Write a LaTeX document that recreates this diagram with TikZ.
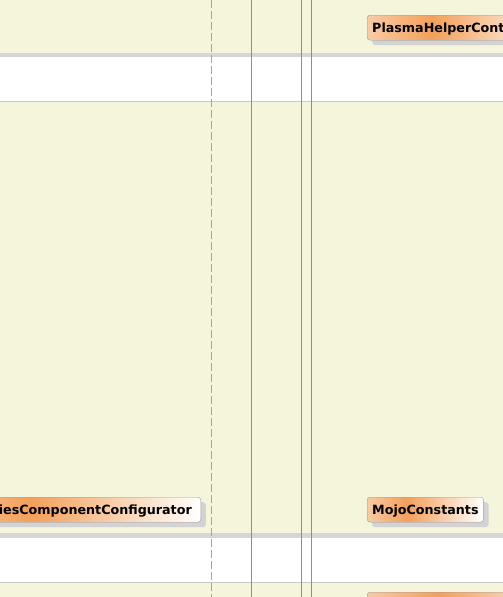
\documentclass[tikz,border=0pt]{standalone}
\usepackage{fontspec}
\setmainfont{DejaVu Sans}
\usetikzlibrary{shadows}
\definecolor{beige}{HTML}{F5F5DC}
\definecolor{stripe}{HTML}{D6D6D6}
\definecolor{rowline}{HTML}{C8C8D0}
\definecolor{life}{HTML}{8E8E8E}
\definecolor{boxlight}{HTML}{F9CBA4}
\definecolor{boxdark}{HTML}{F3A05A}
\definecolor{boxline}{HTML}{9A9A9A}
\definecolor{shadowgray}{HTML}{D3D3D3}
\pgfdeclarehorizontalshading{classfill}{100bp}{color(0bp)=(boxlight); color(25bp)=(boxlight); color(42bp)=(boxdark); color(75bp)=(white); color(100bp)=(white)}
\tikzstyle{class} = [rectangle, rounded corners=3pt, draw=boxline, shade, shading=classfill, minimum height=25pt, inner xsep=5pt, inner ysep=0pt, text height=10pt, text depth=0pt, font=\fontsize{12.7}{15}\bfseries\selectfont, drop shadow={shadow xshift=5pt, shadow yshift=-5pt, fill=shadowgray, opacity=1}]
\tikzstyle{lifeline} = [life, line width=1pt]

\begin{document}
\begin{tikzpicture}[x=1pt, y=-1pt]
  \useasboundingbox (0,0) rectangle (503,597);
  \clip (0,0) rectangle (503,597);
  % rows
  \fill[beige] (0,0) rectangle (503,597);
  \fill[stripe] (0,53) rectangle (503,57);
  \fill[white] (0,57) rectangle (503,101);
  \draw[rowline] (0,101.5) -- (503,101.5);
  \fill[stripe] (0,533) rectangle (503,538);
  \fill[white] (0,538) rectangle (503,582);
  \draw[rowline] (0,582.5) -- (503,582.5);
  % lifelines
  \draw[lifeline, color=life!80, dash pattern=on 8pt off 3pt] (211.5,0) -- (211.5,597);
  \draw[lifeline] (251.5,0) -- (251.5,597);
  \draw[lifeline] (301.5,0) -- (301.5,597);
  \draw[lifeline] (311.5,0) -- (311.5,597);
  % classes
  \node (plasma) [class, anchor=north west, text width=180pt, align=left] at (367,15) {PlasmaHelperCont};
  \node (configurator) [class, anchor=north east, inner xsep=9pt, text width=240pt, align=right] at (201,497) {iesComponentConfigurator};
  \node (mojo) [class, anchor=north west, minimum width=116pt] at (367,497) {MojoConstants};
  \node (next) [class, anchor=north west, minimum width=210pt] at (367,592) {};
\end{tikzpicture}
\end{document}
